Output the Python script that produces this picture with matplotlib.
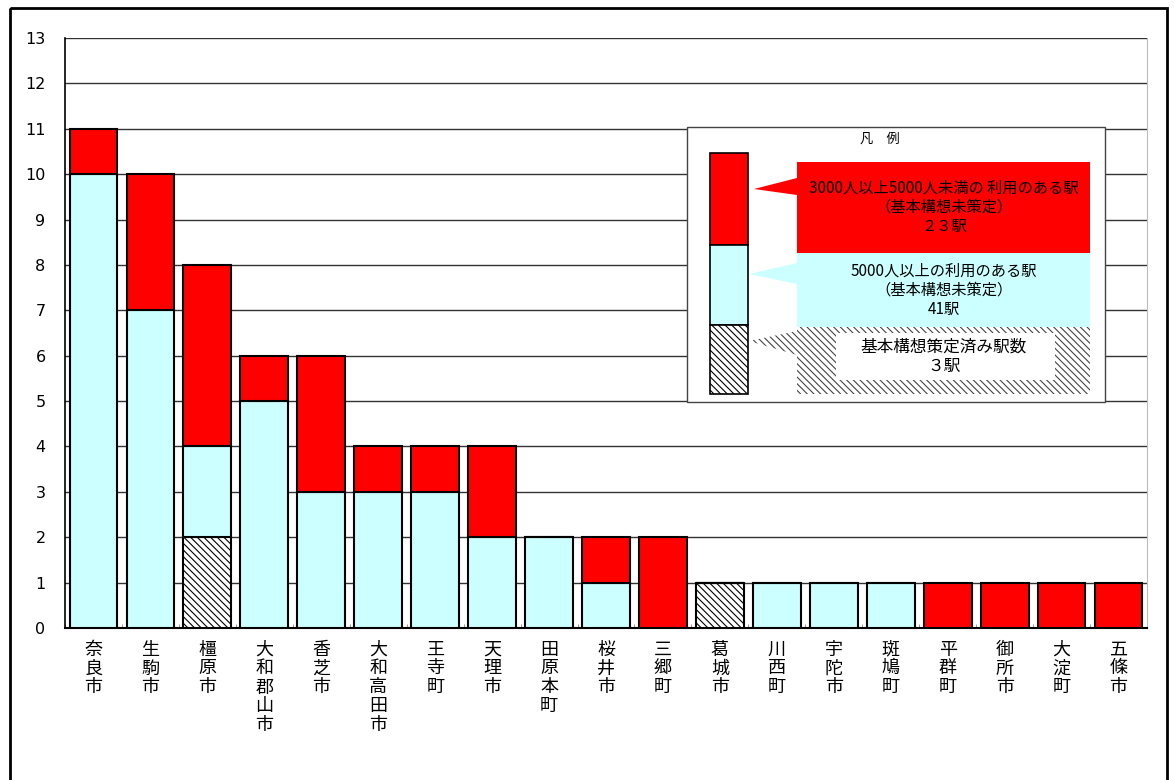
import matplotlib
matplotlib.use("Agg")
import matplotlib.pyplot as plt
from matplotlib.patches import Polygon, Rectangle
import numpy as np

plt.rcParams["font.family"] = ["Noto Sans CJK JP", "DejaVu Sans"]
plt.rcParams["hatch.linewidth"] = 0.8

# municipality names (x categories)
CITIES = ["奈良市", "生駒市", "橿原市", "大和郡山市", "香芝市", "大和高田市",
          "王寺町", "天理市", "田原本町", "桜井市", "三郷町", "葛城市",
          "川西町", "宇陀市", "斑鳩町", "平群町", "御所市", "大淀町", "五條市"]
# stations with basic plan already drawn up
PLANNED = [0, 0, 2, 0, 0, 0, 0, 0, 0, 0, 0, 1, 0, 0, 0, 0, 0, 0, 0]
# stations used by 5000+ people (no plan)
OVER_5000 = [10, 7, 2, 5, 3, 3, 3, 2, 2, 1, 0, 0, 1, 1, 1, 0, 0, 0, 0]
# stations used by 3000-5000 people (no plan)
FROM_3000 = [1, 3, 4, 1, 3, 1, 1, 2, 0, 1, 2, 0, 0, 0, 0, 1, 1, 1, 1]

Y_TICKS = list(range(0, 14))

RED = "#FF0000"
CYAN = "#CCFFFF"
HATCH = "\\" * 5

fig = plt.figure(figsize=(11.75, 7.8), dpi=100)
ax = fig.add_axes([65 / 1175, 1 - 628 / 780, (1147 - 65) / 1175, 590 / 780])

x = np.arange(len(CITIES))
planned = np.array(PLANNED)
over5 = np.array(OVER_5000)
from3 = np.array(FROM_3000)
w = 0.84

ax.bar(x, planned, w, color="white", edgecolor="black", linewidth=1.5,
       hatch=HATCH, zorder=3)
ax.bar(x, over5, w, bottom=planned, color=CYAN, edgecolor="black",
       linewidth=1.5, zorder=3)
ax.bar(x, from3, w, bottom=planned + over5, color=RED, edgecolor="black",
       linewidth=1.5, zorder=3)

ax.set_xlim(-0.5, len(CITIES) - 0.5)
ax.set_ylim(0, 13)
ax.set_yticks(Y_TICKS)
ax.set_yticklabels([str(t) for t in Y_TICKS], fontsize=11.5,
                   family="DejaVu Sans")
ax.tick_params(axis="y", length=0, pad=14)
ax.set_xticks(x)
ax.set_xticklabels(["\n".join(c) for c in CITIES], fontsize=13,
                   va="top", linespacing=1.07)
ax.tick_params(axis="x", length=0, pad=9)
ax.set_xticks(np.arange(len(CITIES) + 1) - 0.5, minor=True)
ax.tick_params(axis="x", which="minor", direction="in", length=3,
               color="#888888")
ax.yaxis.grid(True, color="#333333", linewidth=1.0, zorder=0)
ax.set_axisbelow(True)
ax.spines["top"].set_visible(False)
ax.spines["right"].set_color("#BBBBBB")
ax.spines["left"].set_linewidth(1.2)
ax.spines["bottom"].set_linewidth(1.5)

# overlay in pixel coordinates for legend and frame
ov = fig.add_axes([0, 0, 1, 1], facecolor="none")
ov.set_xlim(0, 1175)
ov.set_ylim(780, 0)
ov.axis("off")

ov.add_patch(Rectangle((10, 8), 1157, 800, fill=False, edgecolor="black",
                       linewidth=2))

# legend box
ov.add_patch(Rectangle((687, 127), 418, 275, facecolor="white",
                       edgecolor="#444444", linewidth=1))
ov.text(880, 139, "凡　例", ha="center", va="center", fontsize=9.5)

# small stacked bar
ov.add_patch(Rectangle((710, 153), 38, 92, facecolor=RED, edgecolor="black",
                       linewidth=1.2))
ov.add_patch(Rectangle((710, 245), 38, 80, facecolor=CYAN, edgecolor="black",
                       linewidth=1.2))
ov.add_patch(Rectangle((710, 325), 38, 69, facecolor="white",
                       edgecolor="black", linewidth=1.2, hatch=HATCH))

# callouts
ov.add_patch(Polygon([(797, 327), (1090, 327), (1090, 394), (797, 394),
                      (797, 355), (749, 341), (797, 331)],
                     facecolor="white", edgecolor="#444444", linewidth=0,
                     hatch=HATCH))
ov.add_patch(Polygon([(797, 162), (1090, 162), (1090, 253), (797, 253),
                      (797, 195), (754, 189), (797, 178)],
                     facecolor=RED, edgecolor="none"))
ov.add_patch(Polygon([(797, 253), (1090, 253), (1090, 327), (797, 327),
                      (797, 284), (749, 274), (797, 263)],
                     facecolor=CYAN, edgecolor="none"))
ov.add_patch(Rectangle((836, 333), 219, 47, facecolor="white",
                       edgecolor="none"))

ov.text(944, 207, "3000人以上5000人未満の 利用のある駅\n（基本構想未策定）\n２３駅",
        ha="center", va="center", fontsize=11, linespacing=1.15)
ov.text(944, 290, "5000人以上の利用のある駅\n（基本構想未策定）\n41駅",
        ha="center", va="center", fontsize=11, linespacing=1.15)
ov.text(944, 357, "基本構想策定済み駅数\n３駅",
        ha="center", va="center", fontsize=12, linespacing=1.15)

fig.savefig("out.png", dpi=100)
